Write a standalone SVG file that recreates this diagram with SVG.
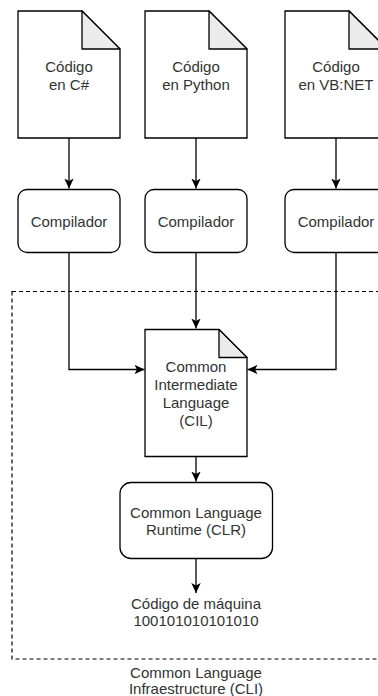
<svg xmlns="http://www.w3.org/2000/svg" width="378" height="696" viewBox="0 0 378 696">
<style>
.shape{fill:#ffffff;stroke:#000000;stroke-width:1.3}
.fold{fill:#ebebeb;stroke:#000000;stroke-width:1.3;stroke-linejoin:round}
.edge{fill:none;stroke:#000000;stroke-width:1.3}
text{font-family:"Liberation Sans",Arial,sans-serif;font-size:15px;fill:#333333;text-anchor:middle}
</style>
<defs>
<marker id="arr" markerWidth="11" markerHeight="11" viewBox="0 0 11 11" refX="10" refY="5.5" orient="auto" markerUnits="userSpaceOnUse">
<path d="M0,0.8 L10,5.5 L0,10.2 L2.4,5.5 Z" fill="#000"/>
</marker>
</defs>
<rect width="378" height="696" fill="#ffffff"/>
<g id="cli">
<rect x="12" y="291.5" width="380" height="367.5" fill="none" stroke="#000" stroke-width="1.2" stroke-dasharray="4 3"/>
<text x="196" y="678">Common Language</text>
<text x="196" y="694">Infraestructure (CLI)</text>
</g>
<g id="connectors">
<path class="edge" d="M69,138 V188.5" marker-end="url(#arr)"/>
<path class="edge" d="M196,138 V188.5" marker-end="url(#arr)"/>
<path class="edge" d="M336,138 V188.5" marker-end="url(#arr)"/>
<path class="edge" d="M69,253 V369.5 H144.5" marker-end="url(#arr)"/>
<path class="edge" d="M196,253 V328.5" marker-end="url(#arr)"/>
<path class="edge" d="M336,253 V369.5 H247.5" marker-end="url(#arr)"/>
<path class="edge" d="M196,456.5 V481.5" marker-end="url(#arr)"/>
<path class="edge" d="M196,558.5 V593" marker-end="url(#arr)"/>
</g>
<g id="doc-cs">
<path class="shape" d="M18,11 H82 L120,49 V138 H18 Z"/>
<path class="fold" d="M82,11 V49 H120 Z"/>
<text x="69" y="72">Código</text>
<text x="69" y="90">en C#</text>
</g>
<g id="doc-py">
<path class="shape" d="M145,11 H209 L247,49 V138 H145 Z"/>
<path class="fold" d="M209,11 V49 H247 Z"/>
<text x="196" y="72">Código</text>
<text x="196" y="90">en Python</text>
</g>
<g id="doc-vb">
<path class="shape" d="M285,11 H349 L387,49 V138 H285 Z"/>
<path class="fold" d="M349,11 V49 H387 Z"/>
<text x="336" y="72">Código</text>
<text x="336" y="90">en VB:NET</text>
</g>
<g id="comp-cs">
<rect class="shape" x="18" y="189.5" width="102" height="63" rx="9"/>
<text x="69" y="227">Compilador</text>
</g>
<g id="comp-py">
<rect class="shape" x="145" y="189.5" width="102" height="63" rx="9"/>
<text x="196" y="227">Compilador</text>
</g>
<g id="comp-vb">
<rect class="shape" x="285" y="189.5" width="102" height="63" rx="9"/>
<text x="336" y="227">Compilador</text>
</g>
<g id="cil">
<path class="shape" d="M145,329.5 H219 L247,357.5 V456.5 H145 Z"/>
<path class="fold" d="M219,329.5 V357.5 H247 Z"/>
<text x="196" y="372">Common</text>
<text x="196" y="390">Intermediate</text>
<text x="196" y="408">Language</text>
<text x="196" y="426">(CIL)</text>
</g>
<g id="clr">
<rect class="shape" x="120" y="482.5" width="152.5" height="76" rx="11"/>
<text x="196" y="517.5">Common Language</text>
<text x="196" y="535">Runtime (CLR)</text>
</g>
<g id="machine">
<text x="196" y="608.5">Código de máquina</text>
<text x="196" y="626">100101010101010</text>
</g>
</svg>
